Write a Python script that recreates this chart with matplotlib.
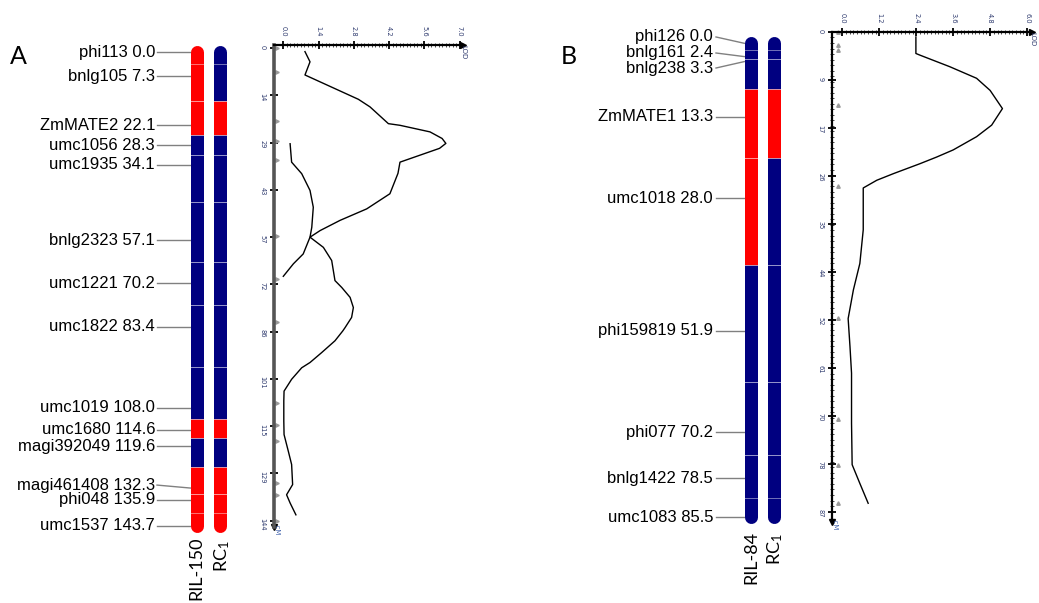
import matplotlib
matplotlib.use("Agg")
import matplotlib.pyplot as plt
import numpy as np

W, H = 1039, 603

# ---- panel A: linkage group, genotypes and LOD profiles ----
markers_a = ["phi113", "bnlg105", "ZmMATE2", "umc1056", "umc1935", "bnlg2323",
             "umc1221", "umc1822", "umc1019", "umc1680", "magi392049",
             "magi461408", "phi048", "umc1537"]
cm_a = [0.0, 7.3, 22.1, 28.3, 34.1, 57.1, 70.2, 83.4, 108.0, 114.6, 119.6,
        132.3, 135.9, 143.7]
geno_ril150 = list("RRRBBBBBBRBRRR")
geno_rc1_a = list("BBRBBBBBBRBRRR")

lod1_a_cm = [1.1, 4.2, 8.2, 15.6, 17.9, 23.0, 23.5, 25.5, 27.5, 29.0, 30.5,
             34.7, 38.1, 44.3, 48.9, 52.4, 55.5, 57.5, 62.6, 65.6, 69.4]
lod1_a = [0.86, 1.06, 0.86, 2.98, 3.44, 4.17, 4.63, 5.82, 6.3, 6.45, 6.2,
          4.63, 4.55, 4.23, 3.31, 2.25, 1.46, 1.06, 0.79, 0.40, 0.0]
lod2_a_cm = [29.1, 34.7, 38.2, 43.3, 48.4, 54.5, 57.5, 60.6, 64.6, 70.7, 72.8,
             75.8, 78.9, 81.9, 85.0, 86.0, 89.0, 92.6, 95.6, 97.2, 100.7,
             104.3, 107.3, 113.4, 117.5, 122.6, 126.6, 132.7, 135.8, 138.3,
             141.9]
lod2_a = [0.27, 0.33, 0.73, 1.06, 1.19, 1.13, 1.06, 1.59, 1.92, 2.05, 2.32,
          2.65, 2.78, 2.71, 2.45, 2.36, 2.05, 1.52, 1.06, 0.73, 0.33, 0.03,
          0.02, 0.02, 0.03, 0.20, 0.33, 0.37, 0.13, 0.27, 0.50]
lod_ticks_a = ["0.0", "1.4", "2.8", "4.2", "5.6", "7.0"]
cm_ticks_a = ["0", "14", "29", "43", "57", "72", "86", "101", "115", "129", "144"]

# ---- panel B ----
markers_b = ["phi126", "bnlg161", "bnlg238", "ZmMATE1", "umc1018",
             "phi159819", "phi077", "bnlg1422", "umc1083"]
cm_b = [0.0, 2.4, 3.3, 13.3, 28.0, 51.9, 70.2, 78.5, 85.5]
geno_ril84 = list("BBBRRBBBB")
geno_rc1_b = list("BBBRBBBBB")

lod_b_cm = [0.9, 3.9, 4.2, 6.3, 8.4, 10.6, 13.9, 16.9, 19.0, 21.4, 22.7, 23.9,
            25.7, 26.9, 28.3, 33.5, 35.9, 42.0, 46.8, 52.0, 57.1, 61.9, 71.0,
            78.5, 81.9, 85.5]
lod_b = [2.39, 2.39, 2.52, 3.49, 4.36, 4.80, 5.20, 4.85, 4.36, 3.60, 3.06,
         2.52, 1.66, 1.12, 0.68, 0.68, 0.68, 0.57, 0.36, 0.19, 0.25, 0.30,
         0.30, 0.32, 0.57, 0.84]
lod_ticks_b = ["0.0", "1.2", "2.4", "3.6", "4.8", "6.0"]
cm_ticks_b = ["0", "9", "17", "26", "35", "44", "52", "61", "70", "78", "87"]

COL = {"R": "#ff0000", "B": "#000080"}
BAR_PX = 13
BAR_LW = BAR_PX * 72 / 100
LABEL_FONT = "Liberation Sans"
TITLE_FONT = "Lato"
TICK_COL = "#2e3a6e"

plt.rcParams["mathtext.default"] = "regular"
fig = plt.figure(figsize=(W / 100, H / 100), dpi=100)


def px_axes(x0, y0, x1, y1):
    return fig.add_axes([x0 / W, 1 - y1 / H, (x1 - x0) / W, (y1 - y0) / H])


def ftext(x, y, s, **kw):
    fig.text(x / W, 1 - y / H, s, **kw)


def draw_chrom(ax, x, cm, geno):
    mids = [(a + b) / 2 for a, b in zip(cm[:-1], cm[1:])]
    edges = [cm[0]] + mids + [cm[-1]]
    n = len(cm)
    for i in [n - 1, 0] + list(range(1, n - 1)):
        end = i in (0, n - 1)
        ax.plot([x, x], [edges[i], edges[i + 1]], color=COL[geno[i]], lw=BAR_LW,
                solid_capstyle="round" if end else "butt", clip_on=False,
                zorder=2 if end else 3)
    for m in mids:
        ax.plot([x - BAR_PX / 2, x + BAR_PX / 2], [m, m], color="white",
                alpha=0.45, lw=0.7, zorder=4, clip_on=False)


def draw_labels(ax, markers, cm, label_cm, text_x, line_x0, line_x1):
    for name, c, lc in zip(markers, cm, label_cm):
        ax.text(text_x, lc, f"{name} {c:.1f}", ha="right", va="center",
                fontsize=12, family=LABEL_FONT, color="black")
        ax.plot([line_x0, line_x1], [lc, c], color="#808080", lw=1,
                clip_on=False, zorder=1)


def lod_axes(box, xlim, ylim, lod_labels, cm_max, cm_labels, grey_spine):
    ax = px_axes(*box)
    ax.set_xlim(*xlim)
    ax.set_ylim(*ylim)
    ax.patch.set_alpha(0)
    for s in ("right", "bottom"):
        ax.spines[s].set_visible(False)
    ax.spines["top"].set_linewidth(1.6)
    if grey_spine:
        ax.spines["left"].set_color("#555555")
        ax.spines["left"].set_linewidth(2.6)
    else:
        ax.spines["left"].set_linewidth(1.6)
    ax.xaxis.tick_top()
    lod_vals = [float(v) for v in lod_labels]
    ax.set_xticks(lod_vals)
    ax.set_xticklabels(lod_labels)
    ax.set_xticks(np.arange(0, lod_vals[-1] + 1e-6, lod_vals[1] / 10), minor=True)
    ax.set_yticks(np.linspace(0, cm_max, len(cm_labels)))
    ax.set_yticklabels(cm_labels)
    if not grey_spine:
        ax.set_yticks(np.arange(0, cm_max, 1.0), minor=True)
    ax.tick_params(which="major", direction="inout", length=6, width=1.3,
                   labelsize=4.8, labelcolor=TICK_COL, pad=3)
    ax.tick_params(which="minor", direction="inout", length=3, width=0.5)
    for lab in ax.get_xticklabels() + ax.get_yticklabels():
        lab.set_rotation(-90)
    ax.plot(1, 1, marker=">", ms=5, color="black", transform=ax.transAxes,
            clip_on=False)
    ax.plot(0, 0, marker="v", ms=5, color="black", transform=ax.transAxes,
            clip_on=False)
    ax.text(1.0, 1.0, "LOD", transform=ax.transAxes, rotation=-90, ha="center",
            va="top", fontsize=5, color=TICK_COL)
    ax.text(0.0, 0.0, "  cM", transform=ax.transAxes, rotation=-90, ha="left",
            va="center", fontsize=5, color="#4a6ab0")
    return ax


# ---------------- panel A ----------------
ax_ca = px_axes(0, 52.2, 260, 525.6)
ax_ca.set_xlim(0, 260)
ax_ca.set_ylim(cm_a[-1], 0)
ax_ca.axis("off")
draw_chrom(ax_ca, 196.8, cm_a, geno_ril150)
draw_chrom(ax_ca, 220.0, cm_a, geno_rc1_a)
label_cm_a = list(cm_a)
label_cm_a[11] = 131.4
draw_labels(ax_ca, markers_a, cm_a, label_cm_a, 155, 157, 190.3)

ax_la = lod_axes((274, 45, 463, 527), (-0.369, 7.13), (145.6, -0.91),
                 lod_ticks_a, 143.7, cm_ticks_a, True)
ax_la.plot(lod1_a, lod1_a_cm, color="black", lw=1)
ax_la.plot(lod2_a, lod2_a_cm, color="black", lw=1)
ax_la.plot([-0.26] * len(cm_a), cm_a, ls="none", marker=">", ms=2.5,
           color="#9a9a9a", clip_on=False)

ftext(18, 57, "A", fontsize=18, family=TITLE_FONT, ha="center", va="center")
ftext(196.7, 537, "RIL-150", rotation=90, ha="center", va="top", fontsize=13,
      family=TITLE_FONT)
ftext(221.7, 540, "RC$_1$", rotation=90, ha="center", va="top", fontsize=13,
      family=TITLE_FONT)

# ---------------- panel B ----------------
ax_cb = px_axes(560, 43.3, 800, 517)
ax_cb.set_xlim(560, 800)
ax_cb.set_ylim(cm_b[-1], 0)
ax_cb.axis("off")
draw_chrom(ax_cb, 750.8, cm_b, geno_ril84)
draw_chrom(ax_cb, 773.8, cm_b, geno_rc1_b)
label_cm_b = list(cm_b)
label_cm_b[0], label_cm_b[1], label_cm_b[2] = -1.14, 1.75, 4.46
draw_labels(ax_cb, markers_b, cm_b, label_cm_b, 713, 716, 744.3)

ax_lb = lod_axes((831.7, 31.7, 1032, 522), (-0.344, 6.16), (88.9, -0.05),
                 lod_ticks_b, 87.0, cm_ticks_b, False)
ax_lb.plot(lod_b, lod_b_cm, color="black", lw=1)
ax_lb.plot([-0.15] * len(cm_b), cm_b, ls="none", marker="^", ms=2.5,
           color="#9a9a9a", clip_on=False)

ftext(569, 57, "B", fontsize=18, family=TITLE_FONT, ha="center", va="center")
ftext(751.7, 531, "RIL-84", rotation=90, ha="center", va="top", fontsize=13,
      family=TITLE_FONT)
ftext(775, 533, "RC$_1$", rotation=90, ha="center", va="top", fontsize=13,
      family=TITLE_FONT)

fig.savefig("out.png", dpi=100, facecolor="white")
